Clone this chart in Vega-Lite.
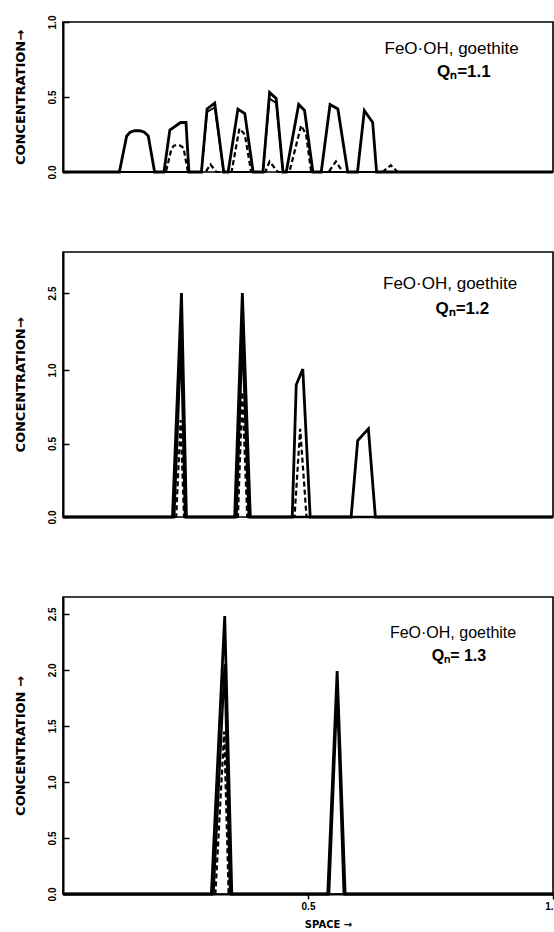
{
  "$schema": "https://vega.github.io/schema/vega-lite/v6.json",
  "background": "white",
  "padding": {"left": 13, "top": 14, "right": 0, "bottom": 0},
  "spacing": 80,
  "bounds": "flush",
  "config": {
    "view": {"stroke": "black", "strokeWidth": 1.6},
    "axis": {
      "grid": false,
      "domainColor": "black",
      "domainWidth": 2,
      "tickColor": "black",
      "tickWidth": 1.5,
      "labelColor": "black",
      "labelFont": "Liberation Sans",
      "labelFontWeight": "bold",
      "labelFontSize": 10,
      "titleColor": "black",
      "titleFont": "DejaVu Sans",
      "titleFontWeight": "bold",
      "titleFontSize": 13
    }
  },
  "datasets": {
    "lines": [
      {"p":1,"s":"A","x":0,"y":0},{"p":1,"s":"A","x":0.115,"y":0},{"p":1,"s":"A","x":0.130,"y":0.24},{"p":1,"s":"A","x":0.137,"y":0.265},{"p":1,"s":"A","x":0.146,"y":0.275},{"p":1,"s":"A","x":0.157,"y":0.275},{"p":1,"s":"A","x":0.166,"y":0.265},{"p":1,"s":"A","x":0.174,"y":0.24},{"p":1,"s":"A","x":0.187,"y":0},
      {"p":1,"s":"A","x":0.206,"y":0},{"p":1,"s":"A","x":0.218,"y":0.28},{"p":1,"s":"A","x":0.240,"y":0.33},{"p":1,"s":"A","x":0.251,"y":0.33},{"p":1,"s":"A","x":0.257,"y":0},
      {"p":1,"s":"A","x":0.2825,"y":0},{"p":1,"s":"A","x":0.294,"y":0.42},{"p":1,"s":"A","x":0.3096,"y":0.46},{"p":1,"s":"A","x":0.328,"y":0},
      {"p":1,"s":"A","x":0.337,"y":0},{"p":1,"s":"A","x":0.357,"y":0.42},{"p":1,"s":"A","x":0.371,"y":0.39},{"p":1,"s":"A","x":0.388,"y":0},
      {"p":1,"s":"A","x":0.408,"y":0},{"p":1,"s":"A","x":0.4216,"y":0.53},{"p":1,"s":"A","x":0.435,"y":0.49},{"p":1,"s":"A","x":0.449,"y":0},
      {"p":1,"s":"A","x":0.4556,"y":0},{"p":1,"s":"A","x":0.481,"y":0.45},{"p":1,"s":"A","x":0.493,"y":0.41},{"p":1,"s":"A","x":0.510,"y":0},
      {"p":1,"s":"A","x":0.527,"y":0},{"p":1,"s":"A","x":0.545,"y":0.45},{"p":1,"s":"A","x":0.561,"y":0.42},{"p":1,"s":"A","x":0.581,"y":0},
      {"p":1,"s":"A","x":0.601,"y":0},{"p":1,"s":"A","x":0.615,"y":0.41},{"p":1,"s":"A","x":0.632,"y":0.33},{"p":1,"s":"A","x":0.640,"y":0},{"p":1,"s":"A","x":1,"y":0},

      {"p":1,"s":"B","x":0,"y":0},{"p":1,"s":"B","x":0.2825,"y":0},{"p":1,"s":"B","x":0.294,"y":0.40},{"p":1,"s":"B","x":0.3096,"y":0.43},{"p":1,"s":"B","x":0.328,"y":0},
      {"p":1,"s":"B","x":0.408,"y":0},{"p":1,"s":"B","x":0.4216,"y":0.49},{"p":1,"s":"B","x":0.435,"y":0.46},{"p":1,"s":"B","x":0.449,"y":0},{"p":1,"s":"B","x":1,"y":0},

      {"p":1,"s":"C","x":0,"y":0},{"p":1,"s":"C","x":0.210,"y":0},{"p":1,"s":"C","x":0.221,"y":0.15},{"p":1,"s":"C","x":0.226,"y":0.175},{"p":1,"s":"C","x":0.233,"y":0.18},{"p":1,"s":"C","x":0.240,"y":0.175},{"p":1,"s":"C","x":0.246,"y":0.16},{"p":1,"s":"C","x":0.255,"y":0},
      {"p":1,"s":"C","x":0.291,"y":0},{"p":1,"s":"C","x":0.301,"y":0.05},{"p":1,"s":"C","x":0.313,"y":0},
      {"p":1,"s":"C","x":0.344,"y":0},{"p":1,"s":"C","x":0.360,"y":0.29},{"p":1,"s":"C","x":0.371,"y":0.25},{"p":1,"s":"C","x":0.384,"y":0},
      {"p":1,"s":"C","x":0.413,"y":0},{"p":1,"s":"C","x":0.4216,"y":0.07},{"p":1,"s":"C","x":0.4385,"y":0},
      {"p":1,"s":"C","x":0.462,"y":0},{"p":1,"s":"C","x":0.486,"y":0.31},{"p":1,"s":"C","x":0.496,"y":0.25},{"p":1,"s":"C","x":0.5065,"y":0},
      {"p":1,"s":"C","x":0.542,"y":0},{"p":1,"s":"C","x":0.557,"y":0.07},{"p":1,"s":"C","x":0.571,"y":0},
      {"p":1,"s":"C","x":0.652,"y":0},{"p":1,"s":"C","x":0.669,"y":0.045},{"p":1,"s":"C","x":0.683,"y":0},{"p":1,"s":"C","x":1,"y":0},

      {"p":2,"s":"A","x":0,"y":0},{"p":2,"s":"A","x":0.2234,"y":0},{"p":2,"s":"A","x":0.2418,"y":2.5},{"p":2,"s":"A","x":0.2519,"y":0},
      {"p":2,"s":"A","x":0.3503,"y":0},{"p":2,"s":"A","x":0.366,"y":2.5},{"p":2,"s":"A","x":0.3823,"y":0},
      {"p":2,"s":"A","x":0.4678,"y":0},{"p":2,"s":"A","x":0.476,"y":0.90},{"p":2,"s":"A","x":0.4894,"y":1.02},{"p":2,"s":"A","x":0.5045,"y":0},
      {"p":2,"s":"A","x":0.588,"y":0},{"p":2,"s":"A","x":0.6014,"y":0.52},{"p":2,"s":"A","x":0.6232,"y":0.60},{"p":2,"s":"A","x":0.6375,"y":0},{"p":2,"s":"A","x":1,"y":0},

      {"p":2,"s":"B","x":0,"y":0},{"p":2,"s":"B","x":0.227,"y":0},{"p":2,"s":"B","x":0.241,"y":1.6},{"p":2,"s":"B","x":0.249,"y":0},
      {"p":2,"s":"B","x":0.354,"y":0},{"p":2,"s":"B","x":0.366,"y":1.7},{"p":2,"s":"B","x":0.379,"y":0},{"p":2,"s":"B","x":1,"y":0},

      {"p":2,"s":"C","x":0,"y":0},{"p":2,"s":"C","x":0.231,"y":0},{"p":2,"s":"C","x":0.240,"y":0.66},{"p":2,"s":"C","x":0.247,"y":0},
      {"p":2,"s":"C","x":0.357,"y":0},{"p":2,"s":"C","x":0.366,"y":0.85},{"p":2,"s":"C","x":0.376,"y":0},
      {"p":2,"s":"C","x":0.4725,"y":0},{"p":2,"s":"C","x":0.484,"y":0.60},{"p":2,"s":"C","x":0.497,"y":0},{"p":2,"s":"C","x":1,"y":0},

      {"p":3,"s":"A","x":0,"y":0},{"p":3,"s":"A","x":0.3028,"y":0},{"p":3,"s":"A","x":0.330,"y":2.48},{"p":3,"s":"A","x":0.3445,"y":0},
      {"p":3,"s":"A","x":0.5403,"y":0},{"p":3,"s":"A","x":0.5595,"y":1.99},{"p":3,"s":"A","x":0.5758,"y":0},{"p":3,"s":"A","x":1,"y":0},

      {"p":3,"s":"B","x":0,"y":0},{"p":3,"s":"B","x":0.307,"y":0},{"p":3,"s":"B","x":0.330,"y":2.05},{"p":3,"s":"B","x":0.341,"y":0},
      {"p":3,"s":"B","x":0.543,"y":0},{"p":3,"s":"B","x":0.5595,"y":1.8},{"p":3,"s":"B","x":0.573,"y":0},{"p":3,"s":"B","x":1,"y":0},

      {"p":3,"s":"C","x":0,"y":0},{"p":3,"s":"C","x":0.311,"y":0},{"p":3,"s":"C","x":0.329,"y":1.45},{"p":3,"s":"C","x":0.338,"y":0},{"p":3,"s":"C","x":1,"y":0}
    ],
    "labels": [
      {"p":1,"line":"FeO·OH, goethite","q":"Qₙ=1.1"},
      {"p":2,"line":"FeO·OH, goethite","q":"Qₙ=1.2"},
      {"p":3,"line":"FeO·OH, goethite","q":"Qₙ= 1.3"}
    ]
  },
  "vconcat": [
    {
      "width": 490,
      "height": 150,
      "layer": [
        {
          "data": {"name": "lines"},
          "transform": [{"filter": "datum.p == 1"}],
          "encoding": {
            "x": {"field": "x", "type": "quantitative", "scale": {"domain": [0, 1], "nice": false, "zero": false}, "axis": null},
            "y": {"field": "y", "type": "quantitative", "scale": {"domain": [0, 1], "nice": false, "zero": false},
              "axis": {"title": "CONCENTRATION→", "values": [0, 0.5, 1], "format": ".1f", "labelAngle": -90, "labelAlign": "center", "labelBaseline": "bottom", "tickSize": -6, "labelPadding": 12, "titlePadding": 20}}
          },
          "layer": [
            {"transform": [{"filter": "datum.s == 'A'"}], "mark": {"type": "line", "color": "black", "strokeWidth": 2.8, "strokeJoin": "miter"}},
            {"transform": [{"filter": "datum.s == 'B'"}], "mark": {"type": "line", "color": "black", "strokeWidth": 1.8, "strokeJoin": "miter"}},
            {"transform": [{"filter": "datum.s == 'C'"}], "mark": {"type": "line", "color": "black", "strokeWidth": 2.2, "strokeDash": [5, 3]}}
          ]
        },
        {"data": {"name": "labels"}, "transform": [{"filter": "datum.p == 1"}], "mark": {"type": "text", "font": "Liberation Sans", "fontSize": 17, "color": "black"},
          "encoding": {"x": {"datum": 0.793, "type": "quantitative"}, "y": {"datum": 0.82, "type": "quantitative"}, "text": {"field": "line"}}},
        {"data": {"name": "labels"}, "transform": [{"filter": "datum.p == 1"}], "mark": {"type": "text", "font": "Liberation Sans", "fontSize": 17, "fontWeight": "bold", "color": "black"},
          "encoding": {"x": {"datum": 0.818, "type": "quantitative"}, "y": {"datum": 0.665, "type": "quantitative"}, "text": {"field": "q"}}}
      ]
    },
    {
      "width": 490,
      "height": 265,
      "layer": [
        {
          "data": {"name": "lines"},
          "transform": [{"filter": "datum.p == 2"}],
          "encoding": {
            "x": {"field": "x", "type": "quantitative", "scale": {"domain": [0, 1], "nice": false, "zero": false}, "axis": null},
            "y": {"field": "y", "type": "quantitative", "scale": {"domain": [0, 1, 2.5, 3.3], "range": [265, 118, 41, 0], "nice": false, "zero": false},
              "axis": {"title": "CONCENTRATION→", "values": [0, 0.5, 1, 2.5], "format": ".1f", "labelAngle": -90, "labelAlign": "center", "labelBaseline": "bottom", "tickSize": -6, "labelPadding": 12, "titlePadding": 20}}
          },
          "layer": [
            {"transform": [{"filter": "datum.s == 'A'"}], "mark": {"type": "line", "color": "black", "strokeWidth": 2.8, "strokeJoin": "miter"}},
            {"transform": [{"filter": "datum.s == 'B'"}], "mark": {"type": "line", "color": "black", "strokeWidth": 2.4, "strokeJoin": "miter"}},
            {"transform": [{"filter": "datum.s == 'C'"}], "mark": {"type": "line", "color": "black", "strokeWidth": 2.2, "strokeDash": [5, 3]}}
          ]
        },
        {"data": {"name": "labels"}, "transform": [{"filter": "datum.p == 2"}], "mark": {"type": "text", "font": "Liberation Sans", "fontSize": 17, "color": "black"},
          "encoding": {"x": {"datum": 0.790, "type": "quantitative"}, "y": {"datum": 2.675, "type": "quantitative"}, "text": {"field": "line"}}},
        {"data": {"name": "labels"}, "transform": [{"filter": "datum.p == 2"}], "mark": {"type": "text", "font": "Liberation Sans", "fontSize": 17, "fontWeight": "bold", "color": "black"},
          "encoding": {"x": {"datum": 0.815, "type": "quantitative"}, "y": {"datum": 2.18, "type": "quantitative"}, "text": {"field": "q"}}}
      ]
    },
    {
      "width": 490,
      "height": 297,
      "layer": [
        {
          "data": {"name": "lines"},
          "transform": [{"filter": "datum.p == 3"}],
          "encoding": {
            "x": {"field": "x", "type": "quantitative", "scale": {"domain": [0, 1], "nice": false, "zero": false},
              "axis": {"title": "SPACE →", "values": [0.5, 1], "labelExpr": "datum.value == 1 ? '1.' : format(datum.value, '.1f')", "labelAlign": {"condition": {"test": "datum.value == 1", "value": "right"}, "value": "center"}, "tickSize": 5, "labelPadding": 2, "labelFontSize": 10, "titleFontSize": 10, "titleX": 265, "titleY": 30, "titleBaseline": "middle", "titleAnchor": "middle"}},
            "y": {"field": "y", "type": "quantitative", "scale": {"domain": [0, 2.65], "nice": false, "zero": false},
              "axis": {"title": "CONCENTRATION →", "values": [0, 0.5, 1, 1.5, 2, 2.5], "format": ".1f", "labelAngle": -90, "labelAlign": "center", "labelBaseline": "bottom", "tickSize": -6, "labelPadding": 12, "titlePadding": 20}}
          },
          "layer": [
            {"transform": [{"filter": "datum.s == 'A'"}], "mark": {"type": "line", "color": "black", "strokeWidth": 2.8, "strokeJoin": "miter"}},
            {"transform": [{"filter": "datum.s == 'B'"}], "mark": {"type": "line", "color": "black", "strokeWidth": 2.4, "strokeJoin": "miter"}},
            {"transform": [{"filter": "datum.s == 'C'"}], "mark": {"type": "line", "color": "black", "strokeWidth": 2.2, "strokeDash": [5, 3]}}
          ]
        },
        {"data": {"name": "labels"}, "transform": [{"filter": "datum.p == 3"}], "mark": {"type": "text", "font": "Liberation Sans", "fontSize": 16, "color": "black"},
          "encoding": {"x": {"datum": 0.796, "type": "quantitative"}, "y": {"datum": 2.33, "type": "quantitative"}, "text": {"field": "line"}}},
        {"data": {"name": "labels"}, "transform": [{"filter": "datum.p == 3"}], "mark": {"type": "text", "font": "Liberation Sans", "fontSize": 16, "fontWeight": "bold", "color": "black"},
          "encoding": {"x": {"datum": 0.808, "type": "quantitative"}, "y": {"datum": 2.12, "type": "quantitative"}, "text": {"field": "q"}}}
      ]
    }
  ]
}
